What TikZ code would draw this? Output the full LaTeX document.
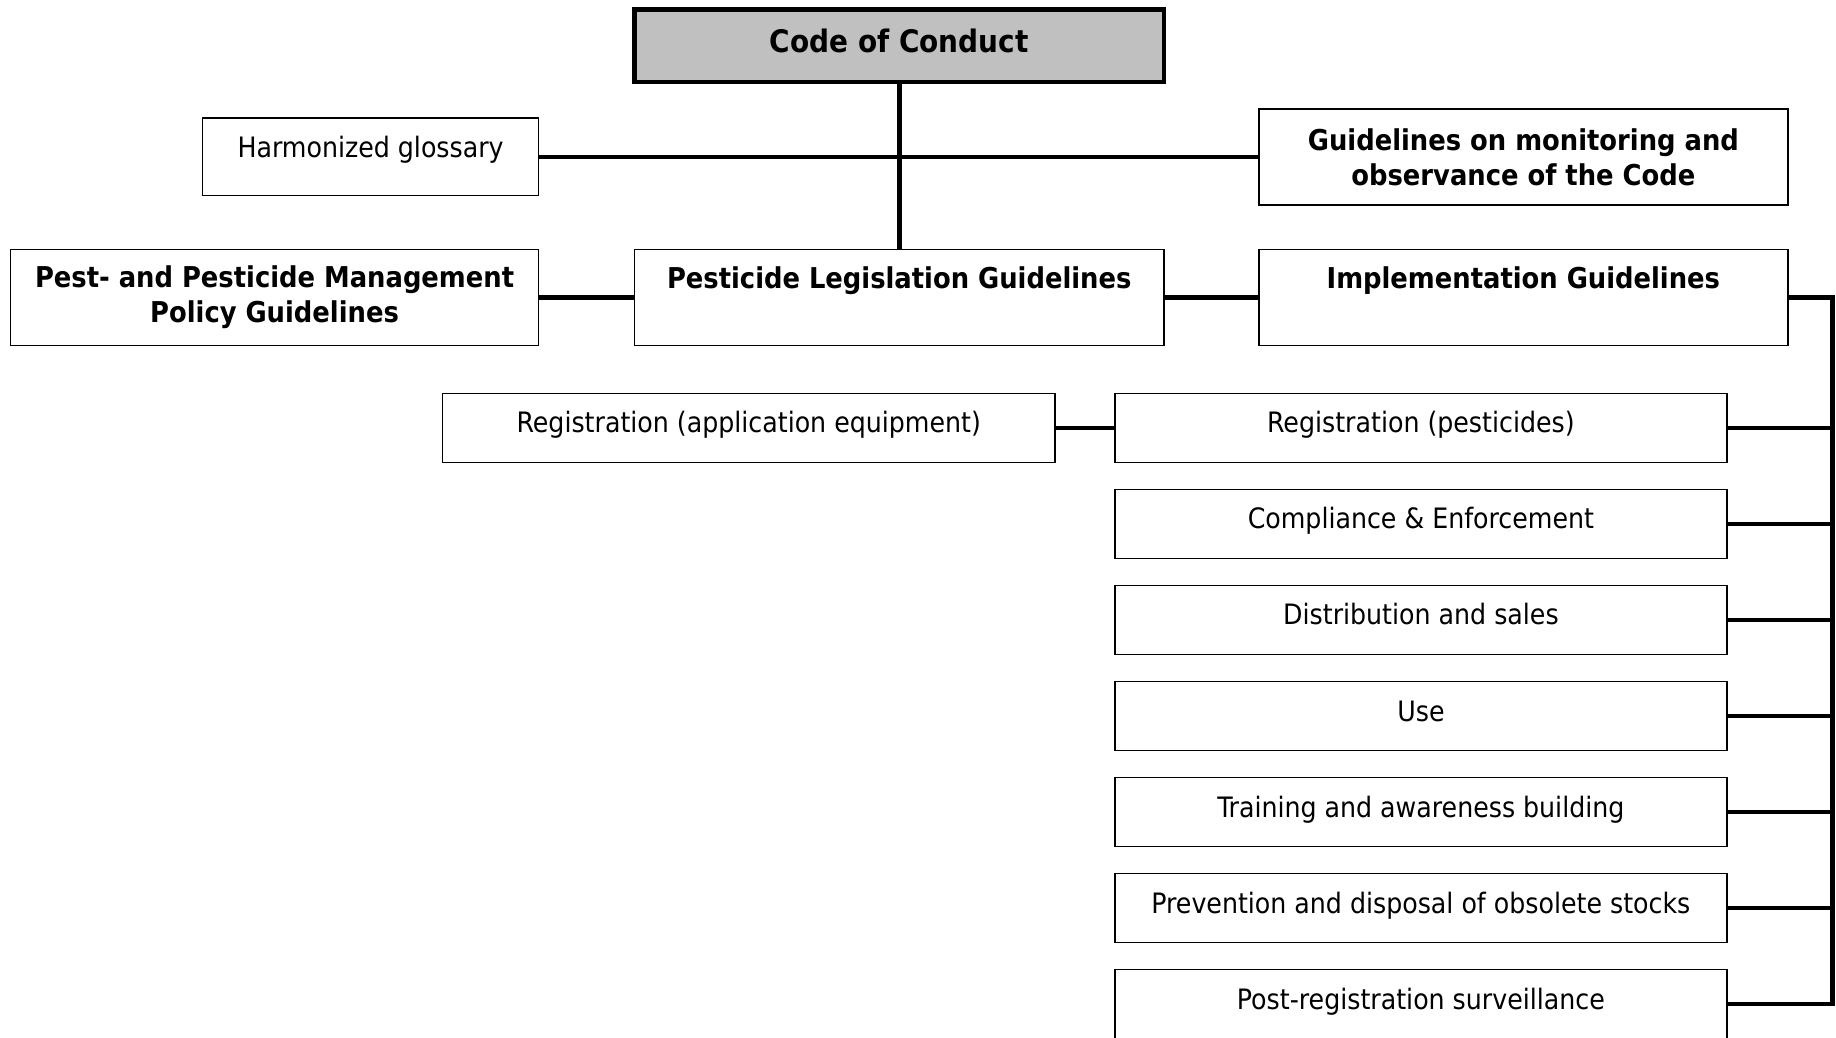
\documentclass[tikz,border=0pt]{standalone}
\usepackage{fontspec}
\setmainfont{DejaVu Sans Condensed}
\usetikzlibrary{positioning}

\tikzset{
    txt/.style={font=\fontsize{24}{30}\selectfont, align=center, inner sep=0pt},
    box/.style={txt, draw, line width=1.4pt},
    itembox/.style={box, minimum width=523pt, minimum height=59pt, text height=18pt, text depth=9.5pt},
    bigbox/.style={box, font=\fontsize{24.5}{30}\selectfont\bfseries, minimum width=452pt, minimum height=82pt},
    link/.style={line width=4pt}
}

\begin{document}
\begin{tikzpicture}[x=1pt, y=-1pt]
    \useasboundingbox (0, 0) rectangle (1568, 886);

    % top of the tree
    \node[box, fill={rgb,255:red,192;green,192;blue,192}, line width=4pt, minimum width=452pt, minimum height=62pt, font=\fontsize{26.5}{30}\selectfont\bfseries, text height=20pt, text depth=9pt] (coc) at (768, 39) {Code of Conduct};

    \node[box, minimum width=287pt, minimum height=66pt, text height=18pt, text depth=16.5pt] (glossary) at (316.5, 134) {Harmonized glossary};
    \node[bigbox] (monitor) at (1301, 134) {Guidelines on monitoring and\\ observance of the Code};

    \node[bigbox, minimum width=451pt] (policy) at (234.5, 254) {Pest- and Pesticide Management\\ Policy Guidelines};
    \node[bigbox, text height=18pt, text depth=32.5pt] (legis) at (768, 254) {Pesticide Legislation Guidelines};
    \node[bigbox, text height=18pt, text depth=32.5pt] (impl) at (1301, 254) {Implementation Guidelines};

    % implementation topics
    \node[itembox] (equip) at (639.5, 365.5) {Registration (application equipment)};
    \node[itembox] (regpest) at (1213.5, 365.5) {Registration (pesticides)};
    \node[itembox, below=21.6pt of regpest] (comply) {Compliance \& Enforcement};
    \node[itembox, below=21.6pt of comply] (sales) {Distribution and sales};
    \node[itembox, below=21.6pt of sales] (use) {Use};
    \node[itembox, below=21.6pt of use] (train) {Training and awareness building};
    \node[itembox, below=21.6pt of train] (stocks) {Prevention and disposal of obsolete stocks};
    \node[itembox, below=21.6pt of stocks] (post) {Post-registration surveillance};

    \draw[link] (coc.south) -- (legis.north);
    \draw[link] (glossary.east) -- (monitor.west);
    \draw[link] (policy.east) -- (legis.west);
    \draw[link] (legis.east) -- (impl.west);
    \draw[link] (equip.east) -- (regpest.west);

    \coordinate (bus) at (1565, 254);
    \draw[link] (impl.east) -- (bus) |- (post.east);
    \draw[link] (regpest.east) -- (regpest.east -| bus);
    \draw[link] (comply.east) -- (comply.east -| bus);
    \draw[link] (sales.east) -- (sales.east -| bus);
    \draw[link] (use.east) -- (use.east -| bus);
    \draw[link] (train.east) -- (train.east -| bus);
    \draw[link] (stocks.east) -- (stocks.east -| bus);
\end{tikzpicture}
\end{document}
